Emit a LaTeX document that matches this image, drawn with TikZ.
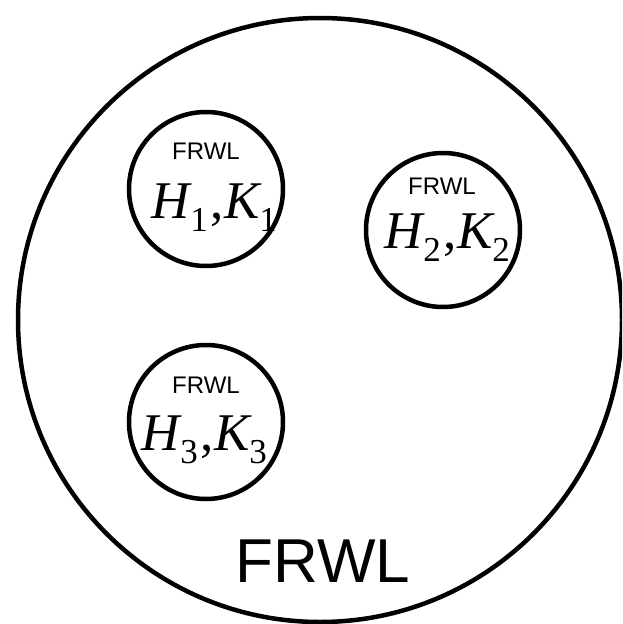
\documentclass[tikz,border=0pt]{standalone}
\usepackage{fontspec}
\setmainfont{Liberation Sans}
\newfontfamily\tms{Liberation Serif}
\newcommand{\subdig}[1]{\raisebox{-13pt}{\fontsize{35}{35}\selectfont\upshape #1}}
\newcommand{\hk}[1]{{\tms\fontsize{53}{53}\selectfont\itshape H\kern1pt\subdig{#1}\kern3pt\upshape,\itshape K\subdig{#1}}}
\begin{document}
\begin{tikzpicture}[x=1pt,y=-1pt,
  ring/.style={draw, line width=4.5pt, circle, inner sep=0pt, minimum size=154pt},
  small/.style={anchor=base, inner sep=0pt, font=\fontsize{24}{24}\selectfont},
  mathlbl/.style={anchor=base, inner sep=0pt}]
\useasboundingbox (0,0) rectangle (622,624);
\begin{scope}
\clip (0,0) rectangle (622,624);
\node[draw, line width=4.5pt, circle, inner sep=0pt, minimum size=604pt] (big) at (320,320) {};
\end{scope}
\node[anchor=base, inner sep=0pt, font=\fontsize{62}{62}\selectfont] (bigl) at (323,582) {FRWL};

\node[ring] (c1) at (206,189) {};
\node[small] (l1) at (206,159) {FRWL};
\node[mathlbl] (m1) at (214,218) {\hk{1}};

\node[ring] (c2) at (443,230) {};
\node[small] (l2) at (442,194) {FRWL};
\node[mathlbl] (m2) at (447,248) {\hk{2}};

\node[ring] (c3) at (206,422) {};
\node[small] (l3) at (206,393) {FRWL};
\node[mathlbl] (m3) at (204,450) {\hk{3}};
\end{tikzpicture}
\end{document}
